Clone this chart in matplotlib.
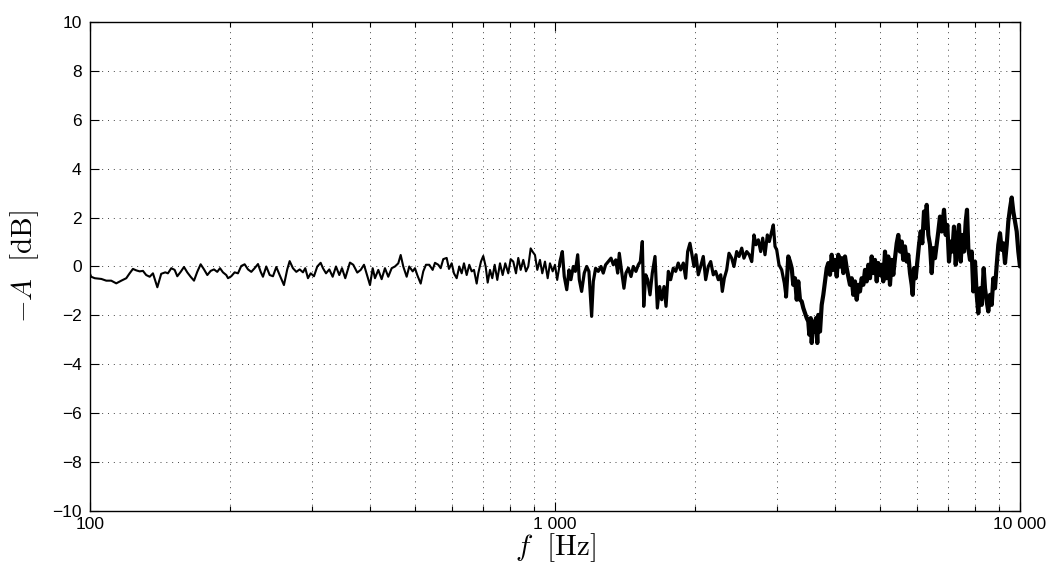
import matplotlib
matplotlib.use("Agg")
import matplotlib.pyplot as plt
from matplotlib.ticker import FixedLocator, FixedFormatter, NullFormatter

# Measured response: frequency [Hz] and -A [dB]
freq_low = [100, 100.6, 102.4, 105.8, 108.4, 111.1, 113.9, 116.8, 119.7, 121.7,
            123.7, 125.8, 127.9, 130.0, 132.1, 134.4, 136.6, 139.6, 142.3, 145.2,
            147.1, 149.6, 152.1, 154.1, 156.7, 159.3, 161.9, 164.6, 167.4, 170.1,
            173.0, 175.9, 178.8, 181.8, 184.8, 187.8, 190.4, 193.2, 196.4, 198.1,
            201.3, 204.7, 208.1, 211.5, 215.1, 218.7, 222.3, 226.0, 229.8, 232.9,
            235.5, 239.4, 243.5, 247.5, 251.6, 255.8, 261.3, 265.6, 268.8, 273.2,
            277.8, 282.5, 287.1, 290.4, 294.3, 298.3, 303.2, 308.2, 313.4, 317.0]
gain_low = [-0.30, -0.42, -0.48, -0.51, -0.58, -0.58, -0.69, -0.58, -0.48, -0.28,
            -0.10, -0.16, -0.20, -0.18, -0.35, -0.42, -0.28, -0.85, -0.30, -0.24,
            -0.28, -0.07, -0.14, -0.40, -0.22, -0.02, -0.24, -0.42, -0.58, -0.22,
            0.09, -0.12, -0.35, -0.18, -0.12, -0.22, -0.07, -0.24, -0.35, -0.48,
            -0.40, -0.24, -0.28, 0.02, 0.09, -0.12, -0.22, -0.07, 0.10, -0.22,
            -0.42, 0.00, -0.35, -0.40, -0.02, -0.35, -0.76, -0.12, 0.22, -0.07,
            -0.22, -0.12, -0.24, -0.07, -0.48, -0.28, -0.40, 0.00, 0.15, -0.07]

freq_mid = [321.8, 327.1, 332.6, 338.1, 343.7, 348.3, 354.0, 362.3, 368.3, 375.7,
            382.1, 388.4, 393.6, 400.1, 405.5, 410.1, 416.9, 423.9, 430.9, 438.0,
            445.5, 452.8, 460.3, 465.8, 471.8, 479.8, 486.0, 494.3, 499.9, 505.7,
            514.3, 520.9, 527.9, 536.6, 545.7, 552.0, 561.1, 567.8, 575.1, 584.9,
            591.6, 599.6, 606.4, 614.6, 622.6, 630.0, 637.2, 645.8, 654.2, 662.0,
            669.6, 678.6, 684.0, 693.2, 701.1, 709.5, 716.6, 724.8, 733.1, 741.9,
            751.5, 761.6, 771.8, 781.8, 793.5, 803.0, 813.4, 824.4, 833.8, 843.8,
            854.7, 866.2, 876.1, 886.6, 895.4, 905.7, 916.1, 928.4, 939.0, 951.7,
            964.5, 975.5, 988.7, 1000, 1011, 1022]
gain_mid = [-0.28, -0.12, -0.42, 0.00, -0.35, -0.07, -0.48, 0.16, 0.07, -0.25,
            -0.14, 0.07, -0.30, -0.76, -0.07, -0.48, -0.14, -0.52, -0.07, -0.42,
            -0.07, 0.00, 0.13, 0.47, 0.00, -0.42, 0.00, -0.20, -0.07, -0.35,
            -0.70, -0.20, 0.07, 0.07, -0.14, 0.15, 0.07, -0.07, 0.30, 0.35,
            -0.10, 0.13, -0.28, -0.48, 0.00, -0.28, 0.13, -0.35, 0.07, -0.20,
            -0.14, -0.70, -0.28, 0.20, 0.43, 0.00, -0.66, -0.14, -0.48, 0.07,
            -0.55, 0.13, -0.35, 0.13, -0.28, 0.30, 0.20, -0.28, 0.35, -0.14,
            0.27, -0.20, 0.00, 0.74, 0.60, 0.47, -0.14, 0.27, -0.28, 0.20,
            -0.48, 0.13, -0.20, 0.07, -0.55, 0.00]

freq_high = [1025, 1037, 1047, 1060, 1072, 1082, 1095, 1106, 1119, 1128,
             1141, 1156, 1170, 1183, 1199, 1209, 1223, 1239, 1256, 1270,
             1285, 1302, 1320, 1335, 1351, 1364, 1375, 1391, 1407, 1421,
             1438, 1457, 1474, 1493, 1511, 1526, 1541, 1552, 1567, 1583,
             1601, 1619, 1641, 1660, 1679, 1696, 1716, 1733, 1753, 1773,
             1796, 1818, 1841, 1863, 1888, 1910, 1929, 1951, 1968, 1990,
             2010, 2033, 2057, 2084, 2109, 2136, 2162, 2190, 2216, 2245,
             2272, 2290, 2313, 2340, 2367, 2399, 2426, 2459, 2488, 2521,
             2549, 2584, 2617, 2649, 2679, 2706, 2737, 2769, 2797, 2829,
             2862, 2890, 2924, 2948, 2973, 2998, 3032, 3073, 3113, 3139]
gain_high = [0.20, 0.61, -0.41, -0.95, -0.14, -0.54, 0.00, -0.20, 0.48, -0.54,
             -1.02, -0.27, 0.00, -0.20, -2.04, -0.61, -0.07, -0.20, 0.00, -0.27,
             0.07, 0.20, 0.34, 0.07, 0.27, -0.27, 0.54, -0.20, -0.89, -0.27,
             -0.07, -0.41, 0.00, -0.20, 0.07, 0.20, 1.02, -1.63, -0.34, -0.54,
             -1.16, -0.27, 0.41, -1.70, -0.82, -1.36, -0.82, -1.63, -0.20, -0.54,
             -0.07, -0.20, 0.14, -0.14, 0.14, -0.48, 0.61, 0.95, 0.54, 0.00,
             0.48, -0.34, 0.00, 0.41, -0.54, 0.00, 0.20, -0.34, -0.20, -0.54,
             -0.34, -1.02, -0.48, -0.14, 0.54, 0.34, 0.00, 0.61, 0.41, 0.75,
             0.34, 0.61, 0.48, 0.20, 1.29, 0.89, 1.09, 0.61, 1.16, 0.48,
             1.29, 1.02, 1.43, 1.70, 0.82, 0.68, 0.07, -0.14, -0.68, -1.23]

freq_top = [3175, 3202, 3229, 3254, 3282, 3310, 3336, 3364, 3393, 3420,
            3449, 3478, 3505, 3523, 3547, 3565, 3593, 3624, 3642, 3665,
            3683, 3715, 3746, 3776, 3808, 3840, 3870, 3903, 3936, 3967,
            4001, 4035, 4067, 4101, 4136, 4169, 4204, 4240, 4273, 4309,
            4346, 4380, 4417, 4455, 4490, 4528, 4566, 4603, 4642, 4681,
            4718, 4758, 4798, 4836, 4877, 4919, 4958, 5000, 5042, 5082,
            5125, 5168, 5209, 5253, 5298, 5340, 5385, 5431, 5474, 5520,
            5567, 5611, 5658, 5706, 5752, 5800, 5849, 5878, 5916, 5966,
            6014, 6065, 6116, 6165, 6217, 6269, 6300, 6351, 6404, 6458,
            6510, 6565, 6620, 6673, 6729, 6786, 6864, 6922, 6977, 7036,
            7096, 7152, 7212, 7273, 7331, 7393, 7456, 7515, 7579, 7643,
            7692, 7742, 7807, 7873, 7936, 8003, 8071, 8135, 8204, 8273,
            8355, 8409, 8480, 8548, 8620, 8693, 8762, 8836, 8911, 8982,
            9058, 9134, 9207, 9285, 9363, 9438, 9518, 9598, 9674, 9756,
            9839, 9917, 10000]
gain_top = [0.41, 0.20, -0.07, -0.75, -0.48, -1.36, -0.61, -1.36, -1.43, -1.70,
            -1.91, -2.11, -2.25, -2.79, -2.11, -3.13, -2.25, -2.66, -2.11, -3.13,
            -1.98, -2.66, -1.57, -1.16, -0.61, -0.07, 0.14, -0.34, 0.48, -0.14,
            0.27, -0.41, 0.48, 0.00, 0.34, -0.27, 0.41, -0.07, -0.41, -0.75,
            -0.48, -1.16, -0.61, -1.36, -0.75, -1.02, -0.48, -0.75, -0.14, -0.61,
            0.07, -0.48, 0.41, -0.27, 0.27, -0.61, 0.14, -0.34, 0.07, -0.61,
            0.61, -0.48, 0.41, -0.75, 0.27, -0.34, 0.34, 0.95, 1.29, 0.61,
            1.02, 0.27, 0.82, 0.20, 0.48, -0.27, -0.75, -1.16, -0.07, -0.48,
            0.20, 0.89, 1.43, 0.95, 2.25, 1.57, 2.52, 1.29, 0.89, -0.27,
            0.75, 0.34, 0.89, 1.43, 2.04, 1.43, 2.32, 1.29, 1.70, 0.20,
            1.02, 0.61, 1.63, 0.07, 0.95, 1.70, 0.20, 1.29, 0.61, 1.84,
            2.32, 0.75, 0.27, 0.61, -1.02, 0.20, -1.16, -1.91, -0.89, -1.57,
            -0.07, -0.89, -1.43, -1.84, -1.16, -1.57, -0.48, -0.89, 0.07, 0.89,
            1.36, 0.68, 0.95, 0.14, 0.89, 1.84, 2.38, 2.82, 2.25, 1.84,
            1.43, 0.61, 0.00]

x_major = [100, 1000, 10000]
x_major_labels = ["100", "1 000", "10 000"]
x_minor = [200, 300, 400, 500, 600, 700, 800, 900,
           2000, 3000, 4000, 5000, 6000, 7000, 8000, 9000]
y_ticks = [-10, -8, -6, -4, -2, 0, 2, 4, 6, 8, 10]

plt.rcParams["mathtext.fontset"] = "cm"
plt.rcParams["font.family"] = ["Liberation Sans", "DejaVu Sans"]

fig = plt.figure(figsize=(10.51, 5.74), dpi=100)
ax = fig.add_axes([0.0856, 0.1098, 0.8849, 0.8519])

# The trace gets denser towards high frequencies, so it is drawn in
# three joined pieces with growing stroke width.
pieces = [
    (freq_low + freq_mid, gain_low + gain_mid, 1.5),
    (freq_mid[-1:] + freq_high, gain_mid[-1:] + gain_high, 2.3),
    (freq_high[-1:] + freq_top, gain_high[-1:] + gain_top, 3.0),
]
for f_seg, g_seg, lw in pieces:
    ax.semilogx(f_seg, g_seg, color="black", linewidth=lw,
                solid_joinstyle="round", solid_capstyle="round", zorder=3)

ax.set_xlim(100, 10000)
ax.set_ylim(-10, 10)

ax.xaxis.set_major_locator(FixedLocator(x_major))
ax.xaxis.set_major_formatter(FixedFormatter(x_major_labels))
ax.xaxis.set_minor_locator(FixedLocator(x_minor))
ax.xaxis.set_minor_formatter(NullFormatter())
ax.set_yticks(y_ticks)
ax.set_yticklabels([str(v).replace("-", "\u2212") for v in y_ticks])

grid_style = dict(color="#444444", linestyle=(0, (1, 5)), linewidth=0.7)
ax.grid(True, which="major", axis="both", **grid_style)
ax.grid(True, which="minor", axis="x", **grid_style)

ax.tick_params(which="both", direction="in", top=True, right=True,
               labelsize=12.5, colors="black", width=0.8)
ax.tick_params(which="major", length=6.5)
ax.tick_params(which="minor", length=3.5)
ax.tick_params(axis="y", pad=6)
ax.tick_params(axis="x", pad=4)

for sp in ax.spines.values():
    sp.set_linewidth(1.0)

ax.set_xlabel(r"$f\ \ \mathrm{[Hz]}$", fontsize=21, labelpad=0)
ax.set_ylabel(r"$-A\ \ \mathrm{[dB]}$", fontsize=21, labelpad=8)

fig.savefig("out.png", dpi=100)
